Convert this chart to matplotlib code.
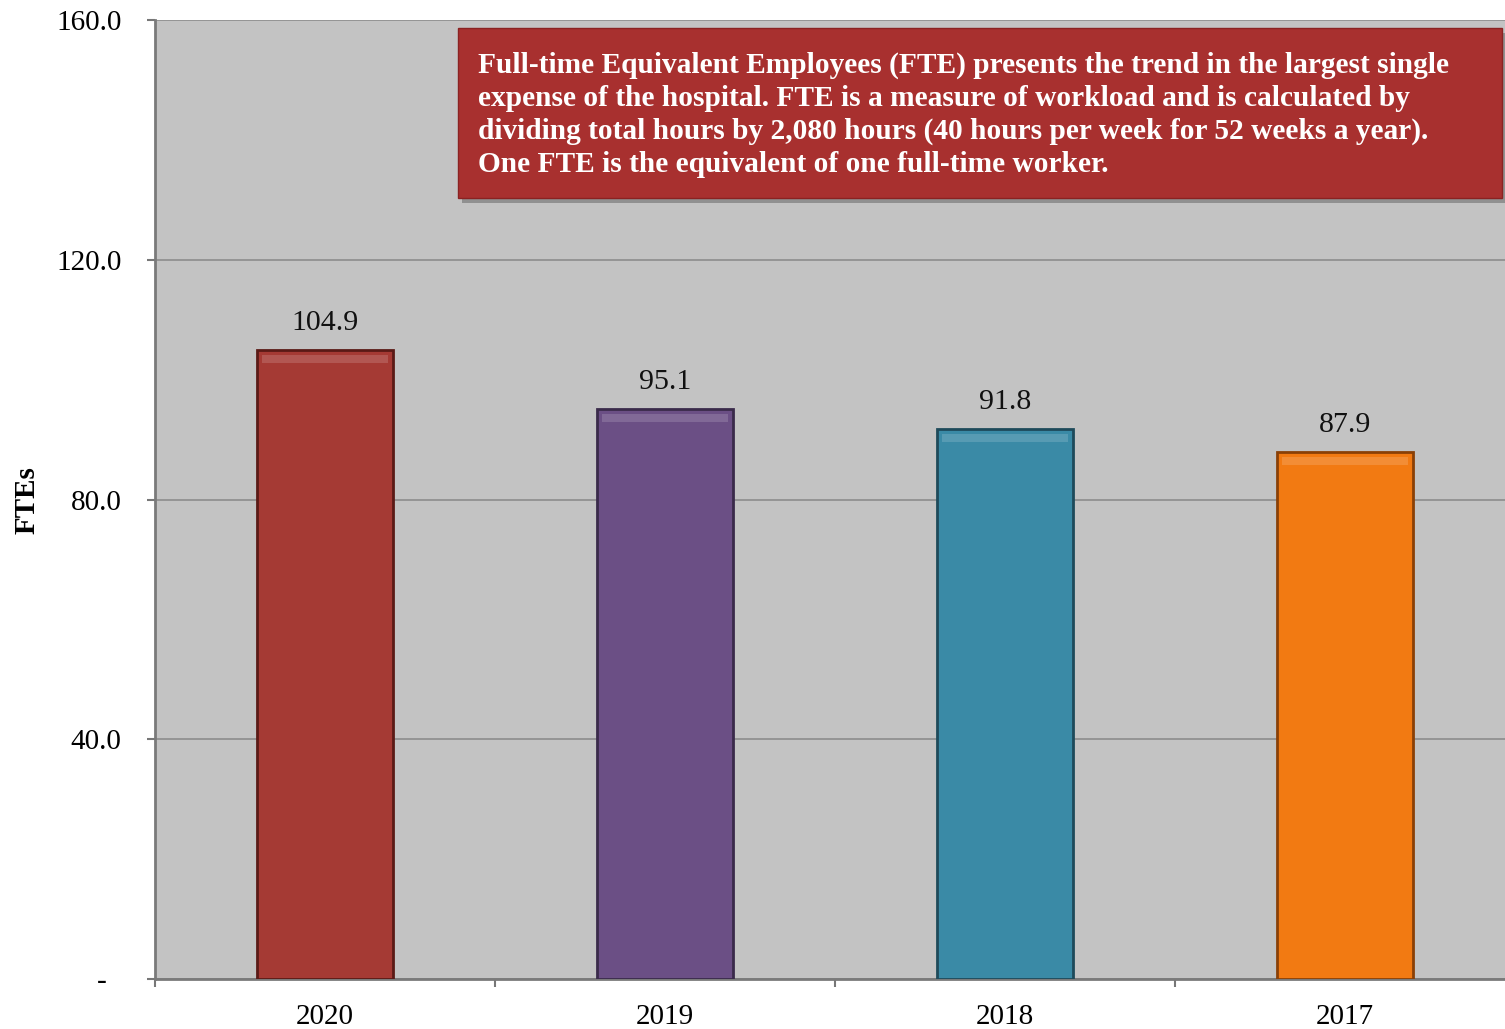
import matplotlib
matplotlib.use("Agg")
import matplotlib.pyplot as plt
from matplotlib.patches import Rectangle

years = ["2020", "2019", "2018", "2017"]
ftes = [104.9, 95.1, 91.8, 87.9]
bar_colors = ["#a53a34", "#6b4f85", "#3a8aa6", "#f27a12"]
edge_colors = ["#5a1a16", "#3a2a4a", "#1e4a5a", "#8a4006"]
yticks = [0, 40, 80, 120, 160]
ytick_labels = ["-  ", "40.0", "80.0", "120.0", "160.0"]
note = ("Full-time Equivalent Employees (FTE) presents the trend in the largest single\n"
        "expense of the hospital. FTE is a measure of workload and is calculated by\n"
        "dividing total hours by 2,080 hours (40 hours per week for 52 weeks a year).\n"
        "One FTE is the equivalent of one full-time worker.")

plt.rcParams["font.family"] = ["Liberation Serif", "DejaVu Serif"]

W, H = 1505, 1029
fig = plt.figure(figsize=(W / 100, H / 100), dpi=100)
ax = fig.add_axes([155 / W, 1 - 979 / H, (1515 - 155) / W, (979 - 20) / H])
ax.set_facecolor("#c3c3c3")

x = list(range(len(years)))
ax.set_xlim(-0.5, len(years) - 0.5)
ax.set_ylim(0, 160)
ax.set_yticks(yticks)
ax.set_yticklabels(ytick_labels, fontsize=21)
ax.yaxis.grid(True, color="#8c8c8c", linewidth=1.2)
ax.set_axisbelow(True)

width = 0.4
bars = ax.bar(x, ftes, width=width, color=bar_colors, edgecolor=edge_colors,
              linewidth=2, zorder=3)
# bevel highlight along the top of each bar
for xi, v, c in zip(x, ftes, bar_colors):
    ax.add_patch(Rectangle((xi - width / 2 + 0.015, v - 2.2), width - 0.03, 1.4,
                           facecolor="white", alpha=0.15, edgecolor="none", zorder=4))
    ax.text(xi, v + 2.3, f"{v:.1f}", ha="center", va="bottom", fontsize=21.5, color="#111111")

ax.set_xticks([i - 0.5 for i in range(len(years) + 1)], minor=False)
ax.set_xticklabels([""] * (len(years) + 1))
ax.set_xticks(x, minor=True)
ax.set_xticklabels(years, minor=True, fontsize=21)
ax.tick_params(axis="x", which="minor", length=0, pad=18)
ax.tick_params(axis="x", which="major", length=6, width=1.5, color="#777777", direction="out")
ax.tick_params(axis="y", length=6, width=1.5, color="#777777", pad=18)

for side in ["top", "right"]:
    ax.spines[side].set_visible(False)
for side in ["left", "bottom"]:
    ax.spines[side].set_color("#7a7a7a")
    ax.spines[side].set_linewidth(2)

fig.text(27 / W, 1 - 500 / H, "FTEs", rotation=90, ha="center", va="center",
         fontsize=21, fontweight="bold")

# explanatory note box with drop shadow
bx0, by0, bx1, by1 = 458 / W, 1 - 198 / H, 1502 / W, 1 - 28 / H
fig.patches.append(Rectangle((bx0 + 4 / W, by0 - 5 / H), bx1 - bx0, by1 - by0,
                             transform=fig.transFigure, facecolor="#6e6e6e",
                             edgecolor="none", alpha=0.6, zorder=5))
fig.patches.append(Rectangle((bx0, by0), bx1 - bx0, by1 - by0,
                             transform=fig.transFigure, facecolor="#a8302f",
                             edgecolor="#8a2222", linewidth=1, zorder=6))
fig.text(478 / W, 1 - 52 / H, note, ha="left", va="top", fontsize=21.15,
         fontweight="bold", color="white", linespacing=1.27, zorder=7)

fig.savefig("out.png", dpi=100)
